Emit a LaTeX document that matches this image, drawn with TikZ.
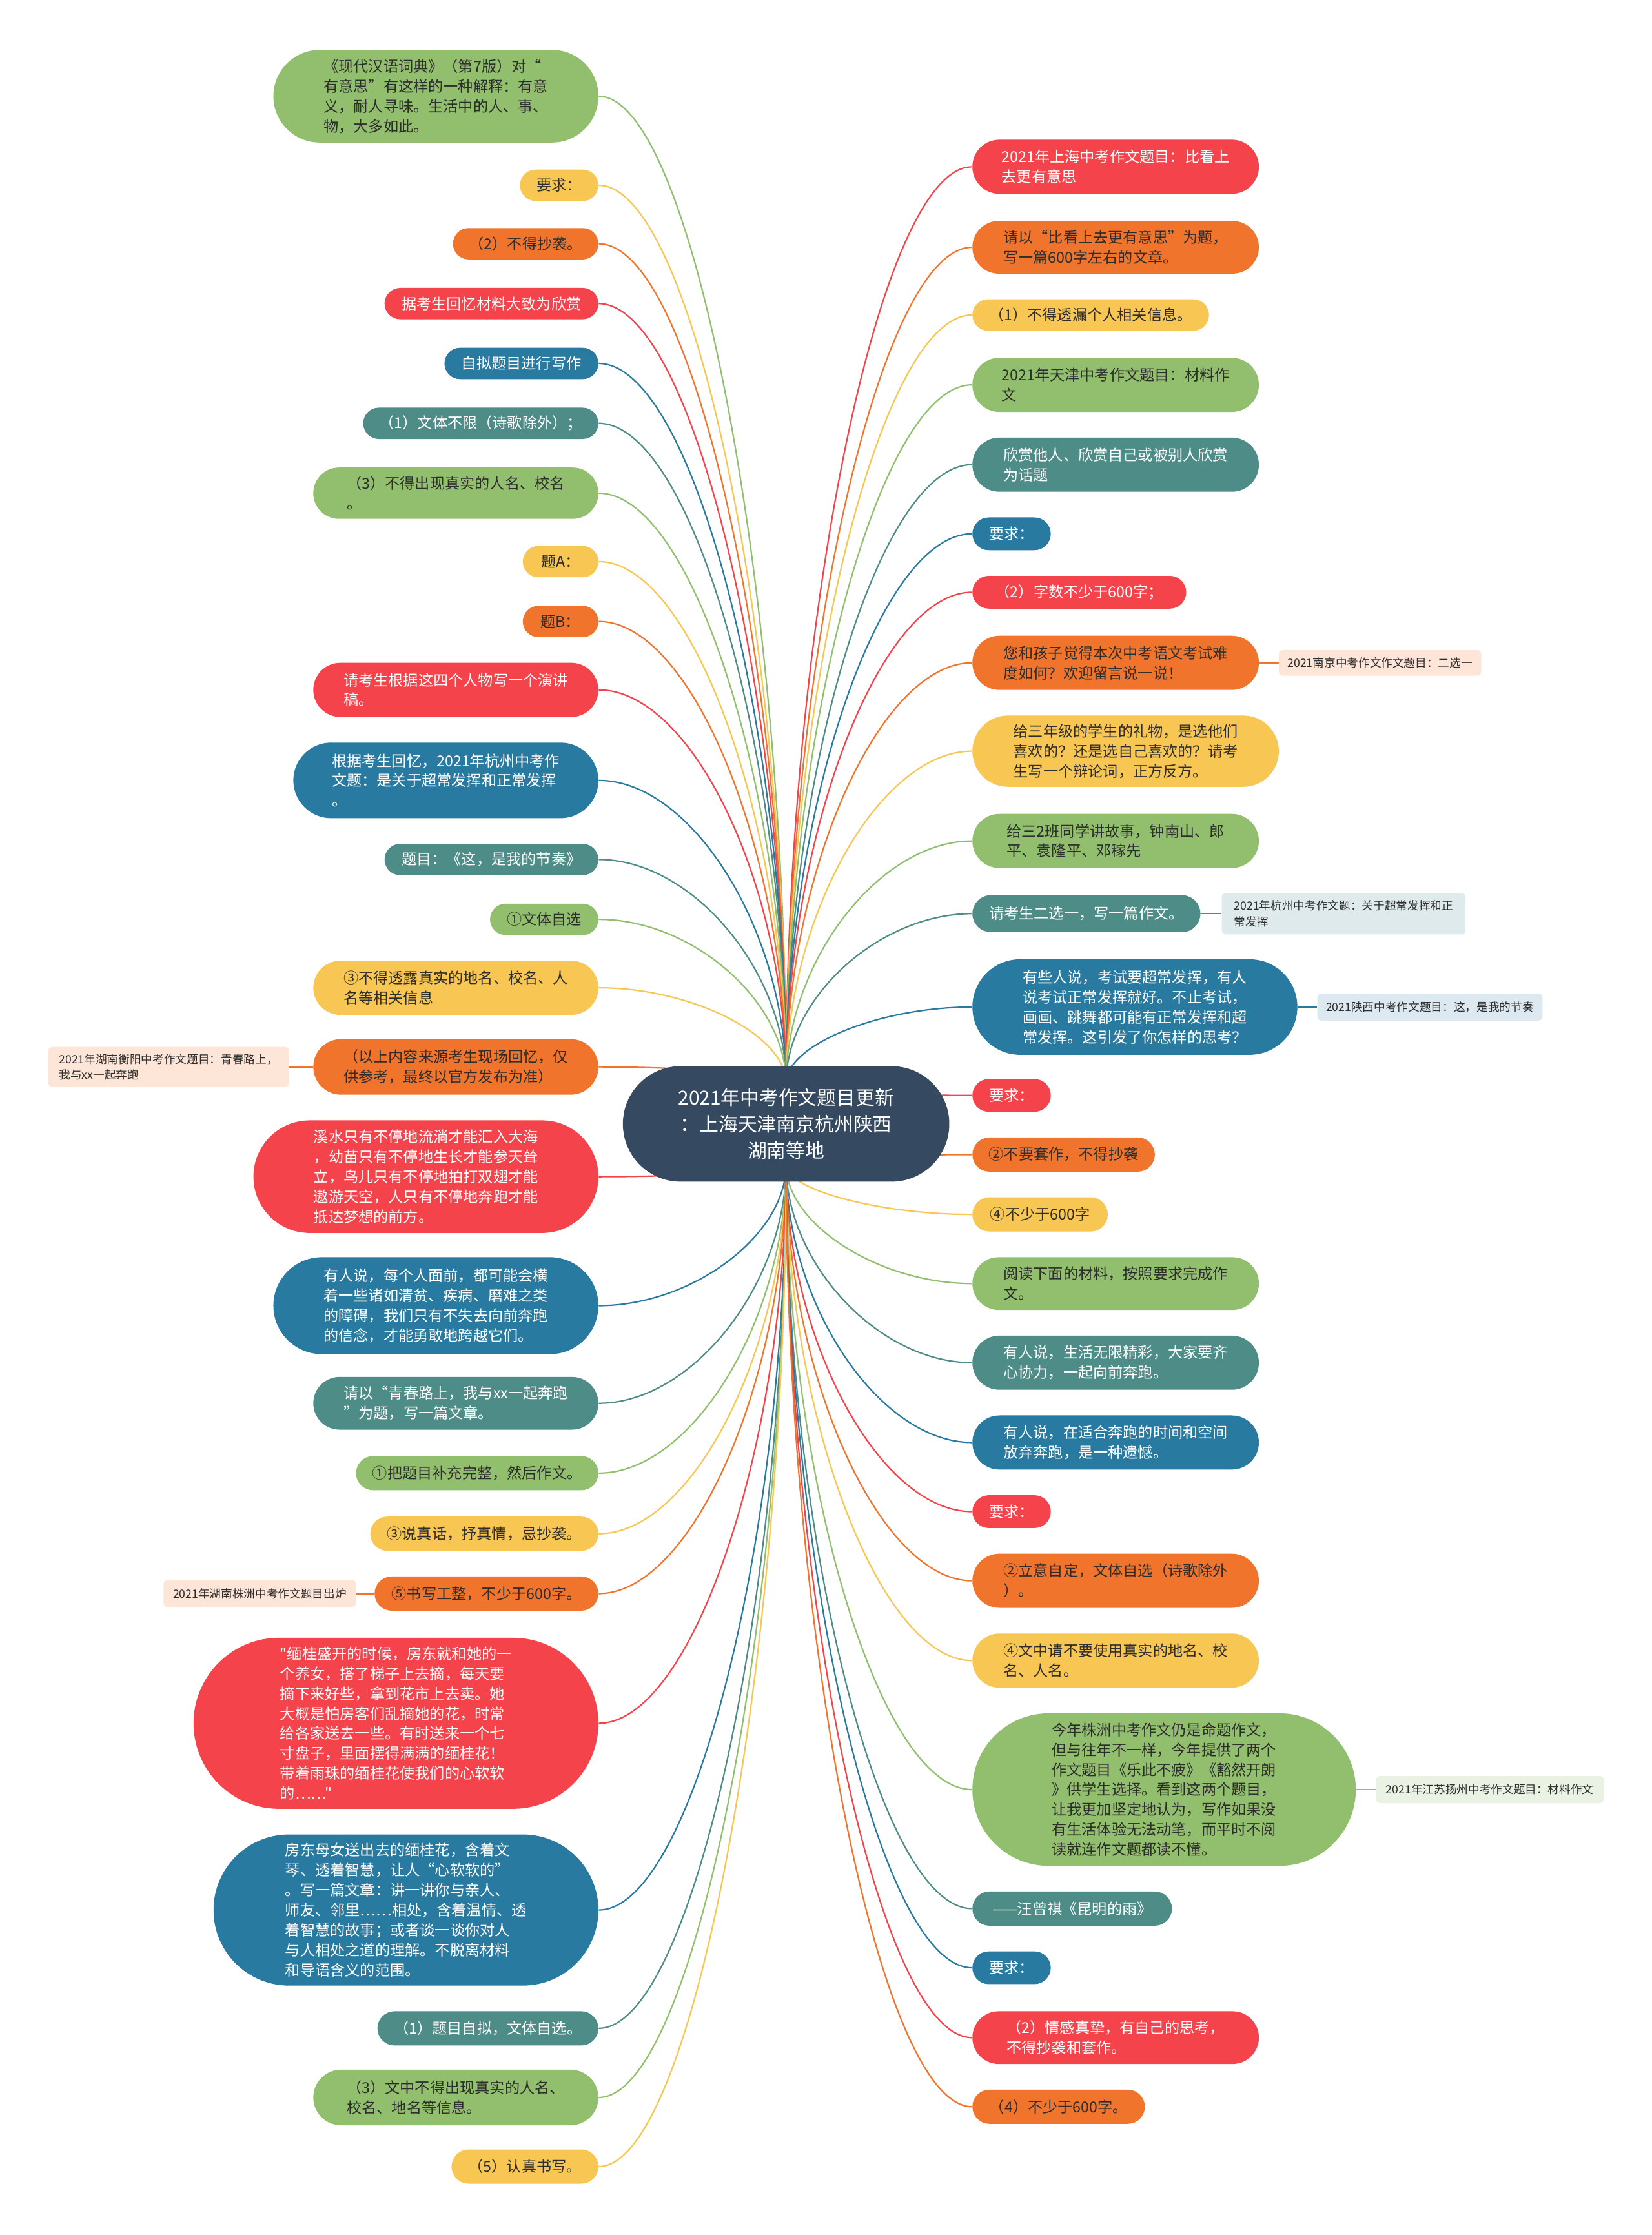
\documentclass[tikz,border=0pt]{standalone}
\usepackage{fontspec}
\setmainfont{Noto Sans CJK SC}[Ligatures=TeXOff]
\usepackage{xcolor}
\usepackage{tikz}
\usetikzlibrary{shapes.misc,calc,backgrounds}
\definecolor{mapred}{RGB}{244, 67, 74}
\definecolor{maporange}{RGB}{240, 116, 44}
\definecolor{mapyellow}{RGB}{248, 198, 82}
\definecolor{mapgreen}{RGB}{146, 191, 110}
\definecolor{mapblue}{RGB}{40, 122, 160}
\definecolor{mapteal}{RGB}{78, 140, 136}
\definecolor{rootslate}{RGB}{53, 74, 96}
\definecolor{darktext}{RGB}{45, 45, 45}
\definecolor{notepeach}{RGB}{253, 229, 215}
\definecolor{noteteal}{RGB}{222, 234, 236}
\definecolor{noteblue}{RGB}{221, 233, 240}
\definecolor{notegreen}{RGB}{234, 242, 228}

\begin{document}
\begin{tikzpicture}[x=1pt, y=-1pt,
    every node/.style={font=\fontsize{10.5}{14}\selectfont},
    pill/.style={rounded rectangle, align=left, inner xsep=0pt, inner ysep=0pt},
    dims/.style 2 args={minimum width=#1pt, minimum height=#2pt},
    pillred/.style={pill, fill=mapred, text=white},
    pillorange/.style={pill, fill=maporange, text=darktext},
    pillyellow/.style={pill, fill=mapyellow, text=darktext},
    pillgreen/.style={pill, fill=mapgreen, text=darktext},
    pillblue/.style={pill, fill=mapblue, text=white},
    pillteal/.style={pill, fill=mapteal, text=white},
    note/.style={rectangle, rounded corners=3pt, align=left, inner sep=0pt, fill=#1, text=darktext, font=\fontsize{8}{11}\selectfont},
    branch/.style={draw=#1, line width=1pt, to path={.. controls ($(\tikztostart)!0.5!(\tikztostart|-\tikztotarget)$) and ($(\tikztotarget)!0.5!(\tikztostart|-\tikztotarget)$) .. (\tikztotarget)}},
    stub/.style={draw=#1, line width=1pt}]
    \useasboundingbox (0,0) rectangle (1159,1568);

    % Root topic
    \node[rounded rectangle, fill=rootslate, text=white, align=center, inner xsep=0pt, inner ysep=0pt, dims={229}{81}, font=\fontsize{13.5}{18.5}\selectfont] (root) at (551.5,788.5) {2021年中考作文题目更新\\：上海天津南京杭州陕西\\湖南等地};
    \coordinate (up) at ([yshift=-12pt]root.north);
    \coordinate (dn) at ([yshift=12pt]root.south);

    % Left branches
    \node[pillgreen, dims={228}{65}, anchor=east] (L1) at (420,67.5) {《现代汉语词典》（第7版）对“\\有意思”有这样的一种解释：有意\\义，耐人寻味。生活中的人、事、\\物，大多如此。};
    \node[pillyellow, dims={55}{22}, anchor=east] (L2) at (420,130) {要求：};
    \node[pillorange, dims={102}{22}, anchor=east] (L3) at (420,171) {（2）不得抄袭。};
    \node[pillred, dims={150}{22}, anchor=east] (L4) at (420,213) {据考生回忆材料大致为欣赏};
    \node[pillblue, dims={108}{22}, anchor=east] (L5) at (420,255) {自拟题目进行写作};
    \node[pillteal, dims={165}{22}, anchor=east] (L6) at (420,297) {（1）文体不限（诗歌除外）；};
    \node[pillgreen, dims={200}{36}, anchor=east] (L7) at (420,346) {（3）不得出现真实的人名、校名\\。};
    \node[pillyellow, dims={53}{22}, anchor=east] (L8) at (420,394) {题A：};
    \node[pillorange, dims={53}{22}, anchor=east] (L9) at (420,436) {题B：};
    \node[pillred, dims={200}{38}, anchor=east] (L10) at (420,484) {请考生根据这四个人物写一个演讲\\稿。};
    \node[pillblue, dims={214}{53}, anchor=east] (L11) at (420,547.5) {根据考生回忆，2021年杭州中考作\\文题：是关于超常发挥和正常发挥\\。};
    \node[pillteal, dims={150}{22}, anchor=east] (L12) at (420,603) {题目：《这，是我的节奏》};
    \node[pillgreen, dims={76}{22}, anchor=east] (L13) at (420,645) {①文体自选};
    \node[pillyellow, dims={200}{38}, anchor=east] (L14) at (420,693) {③不得透露真实的地名、校名、人\\名等相关信息};
    \node[pillorange, dims={200}{39}, anchor=east] (L15) at (420,748.5) {（以上内容来源考生现场回忆，仅\\供参考，最终以官方发布为准）};
    \node[pillred, dims={242}{79}, anchor=east] (L16) at (420,825.5) {溪水只有不停地流淌才能汇入大海\\，幼苗只有不停地生长才能参天耸\\立，鸟儿只有不停地拍打双翅才能\\遨游天空，人只有不停地奔跑才能\\抵达梦想的前方。};
    \node[pillblue, dims={228}{68}, anchor=east] (L17) at (420,916) {有人说，每个人面前，都可能会横\\着一些诸如清贫、疾病、磨难之类\\的障碍，我们只有不失去向前奔跑\\的信念，才能勇敢地跨越它们。};
    \node[pillteal, dims={200}{37}, anchor=east] (L18) at (420,984.5) {请以“青春路上，我与xx一起奔跑\\”为题，写一篇文章。};
    \node[pillgreen, dims={170}{24}, anchor=east] (L19) at (420,1033.5) {①把题目补充完整，然后作文。};
    \node[pillyellow, dims={160}{24}, anchor=east] (L20) at (420,1076) {③说真话，抒真情，忌抄袭。};
    \node[pillorange, dims={157}{24}, anchor=east] (L21) at (420,1118) {⑤书写工整，不少于600字。};
    \node[pillred, dims={284}{120}, anchor=east] (L22) at (420,1209) {"缅桂盛开的时候，房东就和她的一\\个养女，搭了梯子上去摘，每天要\\摘下来好些，拿到花市上去卖。她\\大概是怕房客们乱摘她的花，时常\\给各家送去一些。有时送来一个七\\寸盘子，里面摆得满满的缅桂花！\\带着雨珠的缅桂花使我们的心软软\\的……"};
    \node[pillblue, dims={270}{106}, anchor=east] (L23) at (420,1340) {房东母女送出去的缅桂花，含着文\\琴、透着智慧，让人“心软软的”\\。写一篇文章：讲一讲你与亲人、\\师友、邻里……相处，含着温情、透\\着智慧的故事；或者谈一谈你对人\\与人相处之道的理解。不脱离材料\\和导语含义的范围。};
    \node[pillteal, dims={155}{24}, anchor=east] (L24) at (420,1423) {（1）题目自拟，文体自选。};
    \node[pillgreen, dims={200}{39}, anchor=east] (L25) at (420,1471.5) {（3）文中不得出现真实的人名、\\校名、地名等信息。};
    \node[pillyellow, dims={103}{24}, anchor=east] (L26) at (420,1520) {（5）认真书写。};

    % Right branches
    \node[pillred, dims={201}{38}, anchor=west] (R1) at (682,117) {2021年上海中考作文题目：比看上\\去更有意思};
    \node[pillorange, dims={201}{37}, anchor=west] (R2) at (682,173.5) {请以“比看上去更有意思”为题，\\写一篇600字左右的文章。};
    \node[pillyellow, dims={166}{22}, anchor=west] (R3) at (682,221) {（1）不得透漏个人相关信息。};
    \node[pillgreen, dims={201}{38}, anchor=west] (R4) at (682,270) {2021年天津中考作文题目：材料作\\文};
    \node[pillteal, dims={201}{38}, anchor=west] (R5) at (682,326) {欣赏他人、欣赏自己或被别人欣赏\\为话题};
    \node[pillblue, dims={55}{23}, anchor=west] (R6) at (682,374.5) {要求：};
    \node[pillred, dims={150}{23}, anchor=west] (R7) at (682,415.5) {（2）字数不少于600字；};
    \node[pillorange, dims={201}{38}, anchor=west] (R8) at (682,465) {您和孩子觉得本次中考语文考试难\\度如何？欢迎留言说一说！};
    \node[pillyellow, dims={215}{50}, anchor=west] (R9) at (682,527) {给三年级的学生的礼物，是选他们\\喜欢的？还是选自己喜欢的？请考\\生写一个辩论词，正方反方。};
    \node[pillgreen, dims={201}{38}, anchor=west] (R10) at (682,590) {给三2班同学讲故事，钟南山、郎\\平、袁隆平、邓稼先};
    \node[pillteal, dims={160}{26}, anchor=west] (R11) at (682,641) {请考生二选一，写一篇作文。};
    \node[pillblue, dims={228}{67}, anchor=west] (R12) at (682,706.5) {有些人说，考试要超常发挥，有人\\说考试正常发挥就好。不止考试，\\画画、跳舞都可能有正常发挥和超\\常发挥。这引发了你怎样的思考？};
    \node[pillred, dims={55}{23}, anchor=west] (R13) at (682,768.5) {要求：};
    \node[pillorange, dims={128}{24}, anchor=west] (R14) at (682,810) {②不要套作，不得抄袭};
    \node[pillyellow, dims={95}{24}, anchor=west] (R15) at (682,852) {④不少于600字};
    \node[pillgreen, dims={201}{37}, anchor=west] (R16) at (682,900.5) {阅读下面的材料，按照要求完成作\\文。};
    \node[pillteal, dims={201}{38}, anchor=west] (R17) at (682,956) {有人说，生活无限精彩，大家要齐\\心协力，一起向前奔跑。};
    \node[pillblue, dims={201}{38}, anchor=west] (R18) at (682,1012) {有人说，在适合奔跑的时间和空间\\放弃奔跑，是一种遗憾。};
    \node[pillred, dims={55}{23}, anchor=west] (R19) at (682,1060.5) {要求：};
    \node[pillorange, dims={201}{38}, anchor=west] (R20) at (682,1109) {②立意自定，文体自选（诗歌除外\\）。};
    \node[pillyellow, dims={201}{38}, anchor=west] (R21) at (682,1165) {④文中请不要使用真实的地名、校\\名、人名。};
    \node[pillgreen, dims={269}{107}, anchor=west] (R22) at (682,1255.5) {今年株洲中考作文仍是命题作文，\\但与往年不一样，今年提供了两个\\作文题目《乐此不疲》《豁然开朗\\》供学生选择。看到这两个题目，\\让我更加坚定地认为，写作如果没\\有生活体验无法动笔，而平时不阅\\读就连作文题都读不懂。};
    \node[pillteal, dims={140}{24}, anchor=west] (R23) at (682,1339) {——汪曾祺《昆明的雨》};
    \node[pillblue, dims={55}{23}, anchor=west] (R24) at (682,1380.5) {要求：};
    \node[pillred, dims={201}{37}, anchor=west] (R25) at (682,1429.5) {（2）情感真挚，有自己的思考，\\不得抄袭和套作。};
    \node[pillorange, dims={121}{24}, anchor=west] (R26) at (682,1478) {（4）不少于600字。};

    % Side notes
    \node[note=notepeach, dims={169}{28}, anchor=east] (N1) at (203,748.5) {2021年湖南衡阳中考作文题目：青春路上，\\我与xx一起奔跑};
    \node[note=notepeach, dims={135}{19}, anchor=east] (N2) at (250,1118) {2021年湖南株洲中考作文题目出炉};
    \node[note=notepeach, dims={142}{18}, anchor=west] (N3) at (897,465) {2021南京中考作文作文题目：二选一};
    \node[note=noteteal, dims={171}{29}, anchor=west] (N4) at (857,641) {2021年杭州中考作文题：关于超常发挥和正\\常发挥};
    \node[note=noteblue, dims={158}{19}, anchor=west] (N5) at (924,706.5) {2021陕西中考作文题目：这，是我的节奏};
    \node[note=notegreen, dims={160}{19}, anchor=west] (N6) at (965,1255.5) {2021年江苏扬州中考作文题目：材料作文};

    % Connectors
    \begin{scope}[on background layer]
    \fill[white] (0,0) rectangle (1159,1568);
    \draw[branch=mapgreen] (up) to (L1.east);
    \draw[branch=mapyellow] (up) to (L2.east);
    \draw[branch=maporange] (up) to (L3.east);
    \draw[branch=mapred] (up) to (L4.east);
    \draw[branch=mapblue] (up) to (L5.east);
    \draw[branch=mapteal] (up) to (L6.east);
    \draw[branch=mapgreen] (up) to (L7.east);
    \draw[branch=mapyellow] (up) to (L8.east);
    \draw[branch=maporange] (up) to (L9.east);
    \draw[branch=mapred] (up) to (L10.east);
    \draw[branch=mapblue] (up) to (L11.east);
    \draw[branch=mapteal] (up) to (L12.east);
    \draw[branch=mapgreen] (up) to (L13.east);
    \draw[branch=mapyellow] (up) to (L14.east);
    \draw[branch=maporange] (up) to (L15.east);
    \draw[branch=mapred] (dn) to (L16.east);
    \draw[branch=mapblue] (dn) to (L17.east);
    \draw[branch=mapteal] (dn) to (L18.east);
    \draw[branch=mapgreen] (dn) to (L19.east);
    \draw[branch=mapyellow] (dn) to (L20.east);
    \draw[branch=maporange] (dn) to (L21.east);
    \draw[branch=mapred] (dn) to (L22.east);
    \draw[branch=mapblue] (dn) to (L23.east);
    \draw[branch=mapteal] (dn) to (L24.east);
    \draw[branch=mapgreen] (dn) to (L25.east);
    \draw[branch=mapyellow] (dn) to (L26.east);
    \draw[branch=mapred] (up) to (R1.west);
    \draw[branch=maporange] (up) to (R2.west);
    \draw[branch=mapyellow] (up) to (R3.west);
    \draw[branch=mapgreen] (up) to (R4.west);
    \draw[branch=mapteal] (up) to (R5.west);
    \draw[branch=mapblue] (up) to (R6.west);
    \draw[branch=mapred] (up) to (R7.west);
    \draw[branch=maporange] (up) to (R8.west);
    \draw[branch=mapyellow] (up) to (R9.west);
    \draw[branch=mapgreen] (up) to (R10.west);
    \draw[branch=mapteal] (up) to (R11.west);
    \draw[branch=mapblue] (up) to (R12.west);
    \draw[branch=mapred] (up) to (R13.west);
    \draw[branch=maporange] (dn) to (R14.west);
    \draw[branch=mapyellow] (dn) to (R15.west);
    \draw[branch=mapgreen] (dn) to (R16.west);
    \draw[branch=mapteal] (dn) to (R17.west);
    \draw[branch=mapblue] (dn) to (R18.west);
    \draw[branch=mapred] (dn) to (R19.west);
    \draw[branch=maporange] (dn) to (R20.west);
    \draw[branch=mapyellow] (dn) to (R21.west);
    \draw[branch=mapgreen] (dn) to (R22.west);
    \draw[branch=mapteal] (dn) to (R23.west);
    \draw[branch=mapblue] (dn) to (R24.west);
    \draw[branch=mapred] (dn) to (R25.west);
    \draw[branch=maporange] (dn) to (R26.west);
    % note links
    \draw[stub=maporange] (L15.west) -- (N1.east);
    \draw[stub=maporange] (L21.west) -- (N2.east);
    \draw[stub=maporange] (R8.east) -- (N3.west);
    \draw[stub=mapteal] (R11.east) -- (N4.west);
    \draw[stub=mapblue] (R12.east) -- (N5.west);
    \draw[stub=mapgreen] (R22.east) -- (N6.west);
    \end{scope}
\end{tikzpicture}
\end{document}
